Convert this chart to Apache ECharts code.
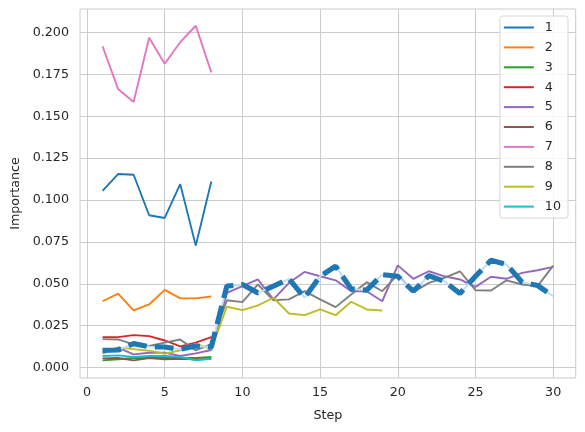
<!DOCTYPE html>
<html>
<head>
<meta charset="utf-8">
<script src="https://cdn.jsdelivr.net/npm/echarts@6/dist/echarts.min.js"></script>
<style>html,body{margin:0;padding:0;background:#fff;}#c{width:585px;height:432px;}</style>
</head>
<body>
<div id="c"></div>
<script>
const steps = [1,2,3,4,5,6,7,8,9,10,11,12,13,14,15,16,17,18,19,20,21,22,23,24,25,26,27,28,29,30];
const xTicks = [0, 5, 10, 15, 20, 25, 30];
const yTicks = [0.000, 0.025, 0.050, 0.075, 0.100, 0.125, 0.150, 0.175, 0.200];
const seriesNames = ['1','2','3','4','5','6','7','8','9','10'];
const colors = ['#1f77b4','#ff7f0e','#2ca02c','#d62728','#9467bd','#8c564b','#e377c2','#7f7f7f','#bcbd22','#17becf'];
const s1 = [0.1055, 0.1155, 0.1151, 0.0909, 0.0893, 0.1095, 0.0728, 0.1111];
const s2 = [0.0396, 0.0442, 0.0341, 0.0377, 0.0464, 0.0413, 0.0413, 0.0424];
const s3 = [0.0043, 0.0050, 0.0057, 0.0057, 0.0057, 0.0057, 0.0057, 0.0063];
const s4 = [0.0182, 0.0182, 0.0194, 0.0188, 0.0162, 0.0127, 0.0149, 0.0182];
const s5 = [0.0095, 0.0119, 0.0079, 0.0089, 0.0089, 0.0069, 0.0085, 0.0105,
            0.0446, 0.0486, 0.0526, 0.0407, 0.0506, 0.0571, 0.0545, 0.0521, 0.0456, 0.0456, 0.0396, 0.0610,
            0.0530, 0.0575, 0.0545, 0.0526, 0.0482, 0.0542, 0.0530, 0.0565, 0.0581, 0.0601];
const s6 = [0.0055, 0.0057, 0.0043, 0.0057, 0.0049, 0.0053, 0.0049, 0.0053];
const s7 = [0.1918, 0.1663, 0.1585, 0.1968, 0.1813, 0.1942, 0.2040, 0.1762];
const s8 = [0.0170, 0.0168, 0.0139, 0.0129, 0.0149, 0.0168, 0.0103, 0.0140,
            0.0402, 0.0391, 0.0496, 0.0402, 0.0407, 0.0456, 0.0407, 0.0361, 0.0436, 0.0510, 0.0456, 0.0555,
            0.0450, 0.0506, 0.0536, 0.0575, 0.0462, 0.0460, 0.0521, 0.0496, 0.0486, 0.0609];
const s9 = [0.0083, 0.0119, 0.0110, 0.0101, 0.0083, 0.0103, 0.0143, 0.0110,
            0.0363, 0.0343, 0.0371, 0.0417, 0.0323, 0.0313, 0.0347, 0.0313, 0.0393, 0.0347, 0.0341];
const s10 = [0.0069, 0.0073, 0.0063, 0.0069, 0.0069, 0.0063, 0.0044, 0.0053];
const highlight = [0.0103, 0.0105, 0.0143, 0.0125, 0.0123, 0.0109, 0.0129, 0.0123,
            0.0486, 0.0496, 0.0446, 0.0486, 0.0530, 0.0417, 0.0545, 0.0605, 0.0470, 0.0462, 0.0555, 0.0545,
            0.0456, 0.0549, 0.0515, 0.0442, 0.0545, 0.0640, 0.0615, 0.0510, 0.0490, 0.0426];
const allSeries = [s1,s2,s3,s4,s5,s6,s7,s8,s9,s10];

const FONT = 'DejaVu Sans';
const TXT = '#262626';
const pairs = arr => arr.map((v,i) => [steps[i], v]);

const series = allSeries.map((arr, i) => ({
  name: seriesNames[i], type: 'line', data: pairs(arr), symbol: 'none',
  lineStyle: { color: colors[i], width: 1.9 }, itemStyle: { color: colors[i] },
  z: 2, animation: false
}));
series.push({
  name: 'hl_under', type: 'line', data: pairs(highlight), symbol: 'none',
  lineStyle: { color: '#c6dcee', width: 2 }, z: 3, animation: false
});
series.push({
  name: 'hl', type: 'line', data: pairs(highlight), symbol: 'none',
  lineStyle: { color: '#1f77b4', width: 5.2, type: [18.8, 8.1], cap: 'butt' }, z: 4, animation: false
});

const chart = echarts.init(document.getElementById('c'), null, { renderer: 'canvas' });
chart.setOption({
  animation: false,
  backgroundColor: '#ffffff',
  textStyle: { fontFamily: FONT },
  grid: { left: 80, right: 9.3, top: 9, bottom: 54, show: true, borderColor: '#cccccc', borderWidth: 1, containLabel: false },
  legend: {
    data: seriesNames, orient: 'vertical', right: 17, top: 16,
    icon: 'path://M0,0H30V2H0Z',
    itemWidth: 30, itemHeight: 14, itemGap: 6.9,
    padding: [5, 7, 5, 4],
    backgroundColor: 'rgba(255,255,255,0.8)', borderColor: '#d6d6d6', borderWidth: 1, borderRadius: 3,
    textStyle: { fontFamily: FONT, fontSize: 12.7, color: TXT, padding: [0,0,0,6] }
  },
  xAxis: {
    type: 'value', min: -0.45, max: 31.45,
    name: 'Step', nameLocation: 'middle', nameGap: 31,
    nameTextStyle: { fontFamily: FONT, fontSize: 12.7, color: TXT },
    axisLine: { show: false }, axisTick: { show: false, customValues: xTicks },
    axisLabel: { fontFamily: FONT, fontSize: 12.7, color: TXT, margin: 8, customValues: xTicks,
      formatter: v => String(Math.round(v)) },
    splitLine: { show: true, lineStyle: { color: '#cccccc', width: 1 } }
  },
  yAxis: {
    type: 'value', min: -0.0062, max: 0.2140,
    name: 'Importance', nameLocation: 'middle', nameGap: 56,
    nameTextStyle: { fontFamily: FONT, fontSize: 12.7, color: TXT },
    axisLine: { show: false }, axisTick: { show: false, customValues: yTicks },
    axisLabel: { fontFamily: FONT, fontSize: 12.7, color: TXT, margin: 11, customValues: yTicks,
      formatter: v => Number(v).toFixed(3) },
    splitLine: { show: true, lineStyle: { color: '#cccccc', width: 1 } }
  },
  series: series
});
</script>
</body>
</html>
